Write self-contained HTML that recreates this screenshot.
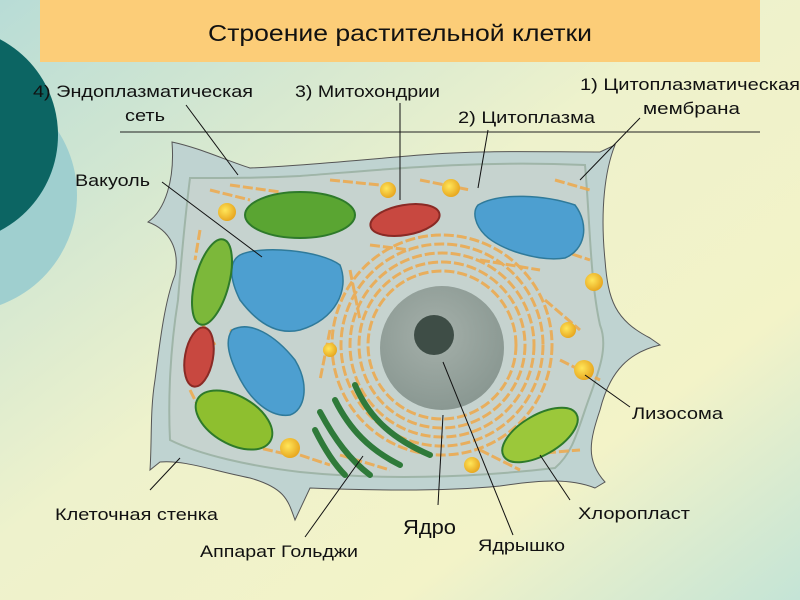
<!DOCTYPE html>
<html><head><meta charset="utf-8"><style>
html,body{margin:0;padding:0;width:800px;height:600px;overflow:hidden}
svg{display:block}
text{font-family:"Liberation Sans","DejaVu Sans",sans-serif;fill:#111}
</style></head><body>
<svg width="800" height="600" viewBox="0 0 800 600" xmlns="http://www.w3.org/2000/svg">
<defs>
<linearGradient id="bg" x1="0" y1="0" x2="1" y2="1">
<stop offset="0" stop-color="#b8dcd6"/>
<stop offset="0.45" stop-color="#eef2cc"/>
<stop offset="0.75" stop-color="#f3f3c8"/>
<stop offset="1" stop-color="#c4e4d6"/>
</linearGradient>
<radialGradient id="nuc" cx="0.45" cy="0.4" r="0.6">
<stop offset="0" stop-color="#a5b0aa"/><stop offset="1" stop-color="#8a9892"/>
</radialGradient>
<radialGradient id="ly" cx="0.4" cy="0.4" r="0.6">
<stop offset="0" stop-color="#ffe65a"/><stop offset="1" stop-color="#e8a820"/>
</radialGradient>
</defs>
<rect width="800" height="600" fill="url(#bg)"/>
<circle cx="-40" cy="195" r="117" fill="#9fcfcf"/>
<circle cx="-50" cy="135" r="108" fill="#0c6563"/>
<rect x="40" y="0" width="720" height="62" fill="#fccd78"/>
<text x="208" y="41" font-size="23" textLength="384" lengthAdjust="spacingAndGlyphs">Строение растительной клетки</text>
<line x1="120" y1="132" x2="760" y2="132" stroke="#222" stroke-width="1"/>

<path d="M172,142 C200,148 225,160 250,168 C300,166 360,160 420,155 C480,150 540,152 600,152 L615,145 C605,170 600,210 605,260 C608,300 615,320 650,338 L660,345 C630,352 610,370 600,410 C590,440 585,460 605,482 L595,488 C570,478 540,480 500,486 C440,492 360,490 310,488 L295,520 C288,500 285,488 250,478 C210,470 185,460 160,462 L150,470 C152,440 150,410 155,380 C160,340 165,300 175,275 C180,250 170,230 148,222 C165,210 175,180 172,142 Z" fill="#bfd3d1" stroke="#555" stroke-width="1"/>
<path d="M190,178 C230,178 260,178 300,176 C380,170 470,160 585,165 C590,220 590,280 600,325 C610,350 595,380 585,410 C575,440 570,455 555,468 C470,478 380,480 300,472 C250,466 200,455 170,440 C168,400 170,350 178,300 C182,250 186,210 190,178 Z" fill="#c6d3cf" stroke="#9fb5a8" stroke-width="2"/>

<g stroke="#eea84a" stroke-width="3" fill="none" stroke-dasharray="10 3" opacity="0.85">
<circle cx="442" cy="345" r="110"/>
<circle cx="442" cy="345" r="101"/>
<circle cx="442" cy="345" r="92"/>
<circle cx="442" cy="345" r="83"/>
<circle cx="442" cy="345" r="74"/>
<path d="M230,185 L280,192 M330,180 L380,185 M420,180 L470,190 M480,260 L540,270 M545,300 L580,330 M200,320 L215,345 M190,390 L205,420 M520,455 L580,450 M340,455 L390,470 M225,440 L290,455 M200,230 L195,260 M350,270 L360,320 M330,330 L320,380 M555,180 L590,190 M560,360 L600,380 M245,340 L230,330 M300,455 L330,465 M210,190 L250,200 M560,250 L590,260 M370,245 L410,250 M480,450 L520,470"/>
</g>

<circle cx="442" cy="348" r="62" fill="url(#nuc)"/>
<circle cx="434" cy="335" r="20" fill="#3e4d46"/>

<path d="M240,255 C260,245 320,250 340,265 C350,290 335,320 300,330 C275,336 255,320 240,300 C230,280 228,262 240,255 Z" fill="#4d9fd0" stroke="#2f7a9a" stroke-width="1.5"/>
<path d="M232,330 C250,320 275,335 295,360 C310,385 305,410 290,415 C270,418 250,400 238,375 C228,355 225,340 232,330 Z" fill="#4d9fd0" stroke="#2f7a9a" stroke-width="1.5"/>
<path d="M478,205 C500,192 545,195 575,205 C590,225 585,250 565,258 C540,262 500,250 485,235 C475,225 472,212 478,205 Z" fill="#4d9fd0" stroke="#2f7a9a" stroke-width="1.5"/>

<ellipse cx="300" cy="215" rx="55" ry="23" fill="#5aa532" stroke="#2e7a2a" stroke-width="2"/>
<ellipse cx="212" cy="282" rx="17" ry="44" transform="rotate(15 212 282)" fill="#7cb83a" stroke="#2e7a2a" stroke-width="2"/>
<ellipse cx="234" cy="420" rx="42" ry="24" transform="rotate(30 234 420)" fill="#8ebf2f" stroke="#2e7a2a" stroke-width="2"/>
<ellipse cx="540" cy="435" rx="42" ry="20" transform="rotate(-30 540 435)" fill="#9bc83a" stroke="#2e7a2a" stroke-width="2"/>

<ellipse cx="405" cy="220" rx="35" ry="15" transform="rotate(-10 405 220)" fill="#c84840" stroke="#8a2a25" stroke-width="2"/>
<ellipse cx="199" cy="357" rx="14" ry="30" transform="rotate(10 199 357)" fill="#c84840" stroke="#8a2a25" stroke-width="2"/>

<g stroke="#2f7a3a" stroke-width="6" fill="none" stroke-linecap="round">
<path d="M355,385 C370,420 395,440 430,455"/>
<path d="M335,400 C350,430 370,450 400,465"/>
<path d="M320,412 C335,440 350,460 370,475"/>
<path d="M315,430 C325,450 335,465 345,475"/>
</g>

<g fill="url(#ly)">
<circle cx="227" cy="212" r="9"/><circle cx="451" cy="188" r="9"/><circle cx="594" cy="282" r="9"/>
<circle cx="584" cy="370" r="10"/><circle cx="568" cy="330" r="8"/><circle cx="290" cy="448" r="10"/>
<circle cx="330" cy="350" r="7"/><circle cx="472" cy="465" r="8"/><circle cx="388" cy="190" r="8"/>
</g>

<g stroke="#111" stroke-width="1">
<line x1="186" y1="105" x2="238" y2="175"/>
<line x1="400" y1="103" x2="400" y2="200"/>
<line x1="488" y1="130" x2="478" y2="188"/>
<line x1="640" y1="118" x2="580" y2="180"/>
<line x1="162" y1="182" x2="262" y2="257"/>
<line x1="630" y1="407" x2="585" y2="375"/>
<line x1="570" y1="500" x2="540" y2="455"/>
<line x1="513" y1="535" x2="443" y2="362"/>
<line x1="438" y1="505" x2="443" y2="415"/>
<line x1="305" y1="537" x2="363" y2="456"/>
<line x1="150" y1="490" x2="180" y2="458"/>
</g>

<g font-size="17" lengthAdjust="spacingAndGlyphs">
<text x="33" y="97" textLength="220" lengthAdjust="spacingAndGlyphs">4) Эндоплазматическая</text>
<text x="125" y="121" textLength="40" lengthAdjust="spacingAndGlyphs">сеть</text>
<text x="295" y="97" textLength="145" lengthAdjust="spacingAndGlyphs">3) Митохондрии</text>
<text x="458" y="123" textLength="137" lengthAdjust="spacingAndGlyphs">2) Цитоплазма</text>
<text x="580" y="90" textLength="220" lengthAdjust="spacingAndGlyphs">1) Цитоплазматическая</text>
<text x="643" y="114" textLength="97" lengthAdjust="spacingAndGlyphs">мембрана</text>
<text x="75" y="186" textLength="75" lengthAdjust="spacingAndGlyphs">Вакуоль</text>
<text x="632" y="419" textLength="91" lengthAdjust="spacingAndGlyphs">Лизосома</text>
<text x="578" y="519" textLength="112" lengthAdjust="spacingAndGlyphs">Хлоропласт</text>
<text x="478" y="551" textLength="87" lengthAdjust="spacingAndGlyphs">Ядрышко</text>
<text x="403" y="534" font-size="20" textLength="53" lengthAdjust="spacingAndGlyphs">Ядро</text>
<text x="200" y="557" textLength="158" lengthAdjust="spacingAndGlyphs">Аппарат Гольджи</text>
<text x="55" y="520" textLength="163" lengthAdjust="spacingAndGlyphs">Клеточная стенка</text>
</g>
</svg>
</body></html>
